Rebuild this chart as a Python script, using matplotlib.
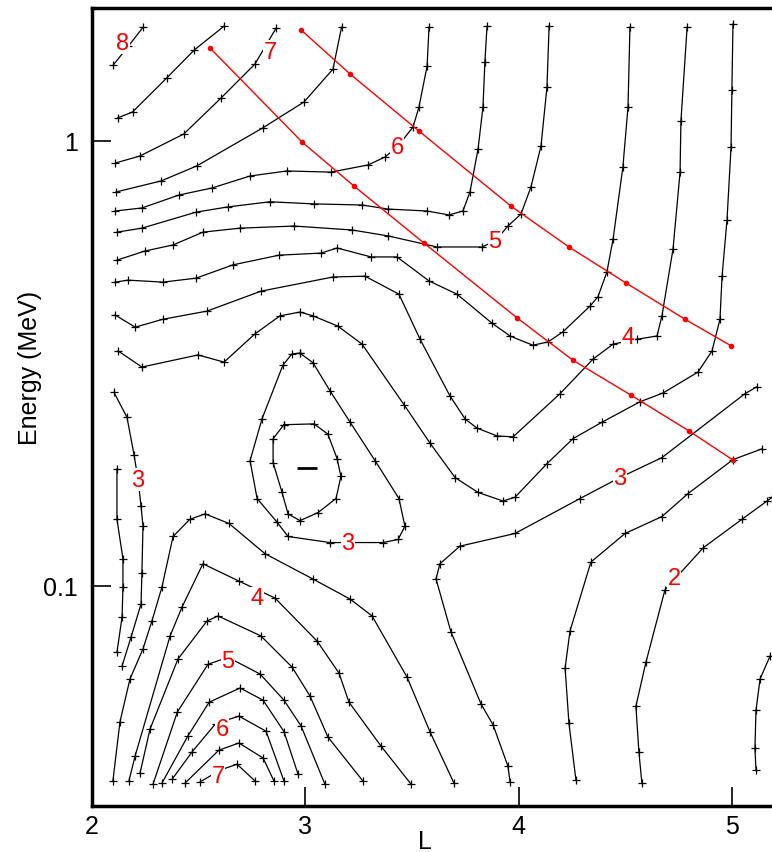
import matplotlib
matplotlib.use('Agg')
import matplotlib.pyplot as plt
from matplotlib.ticker import NullLocator

plt.rcParams['font.family'] = ['Liberation Sans', 'DejaVu Sans']

# contour lines, (L, Energy MeV)
c8 = [(2.10, 1.48), (2.17, 1.63), (2.24, 1.80)]
c7a = [(2.12, 1.125), (2.19, 1.16), (2.35, 1.383), (2.48, 1.60), (2.62, 1.81)]
c7 = [(2.11, 0.891), (2.225, 0.924), (2.43, 1.035), (2.605, 1.247), (2.764, 1.487), (2.863, 1.79)]
c6a = [(2.113, 0.767), (2.324, 0.812), (2.49, 0.877), (2.80, 1.068), (2.994, 1.222),
       (3.13, 1.449), (3.17, 1.80)]
c6 = [(2.108, 0.695), (2.234, 0.706), (2.408, 0.755), (2.563, 0.783), (2.741, 0.833),
      (2.914, 0.855), (3.12, 0.850), (3.294, 0.882), (3.374, 0.919), (3.435, 0.973),
      (3.505, 1.073), (3.533, 1.191), (3.571, 1.472), (3.58, 1.80)]
c5a = [(2.117, 0.623), (2.234, 0.636), (2.488, 0.691), (2.638, 0.710), (2.834, 0.729),
       (3.041, 0.721), (3.266, 0.717), (3.388, 0.702), (3.571, 0.695), (3.674, 0.681),
       (3.739, 0.695), (3.772, 0.767), (3.81, 0.958), (3.833, 1.191), (3.842, 1.503),
       (3.852, 1.811)]
c5 = [(2.117, 0.539), (2.248, 0.565), (2.38, 0.583), (2.52, 0.623), (2.694, 0.636),
      (2.947, 0.643), (3.219, 0.630), (3.388, 0.611), (3.617, 0.577), (3.828, 0.577),
      (3.89, 0.595), (3.95, 0.643), (4.011, 0.684), (4.058, 0.787), (4.105, 0.973),
      (4.133, 1.320), (4.143, 1.811)]
c4a = [(2.108, 0.481), (2.169, 0.486), (2.333, 0.481), (2.488, 0.491), (2.661, 0.526),
       (2.877, 0.553), (3.074, 0.559), (3.149, 0.574), (3.308, 0.548), (3.43, 0.548),
       (3.58, 0.484), (3.711, 0.452), (3.875, 0.389), (3.96, 0.364), (4.067, 0.347),
       (4.138, 0.353), (4.208, 0.372), (4.335, 0.425), (4.372, 0.446), (4.414, 0.507),
       (4.443, 0.601), (4.489, 0.873), (4.513, 1.191), (4.522, 1.80)]
c4 = [(2.108, 0.406), (2.202, 0.381), (2.333, 0.397), (2.539, 0.414), (2.792, 0.459),
      (3.13, 0.494), (3.28, 0.496), (3.439, 0.452), (3.538, 0.358), (3.678, 0.267),
      (3.749, 0.237), (3.805, 0.226), (3.899, 0.217), (3.974, 0.216), (4.194, 0.270),
      (4.349, 0.323), (4.443, 0.349), (4.555, 0.358), (4.649, 0.364), (4.672, 0.404),
      (4.724, 0.571), (4.757, 0.850), (4.761, 1.107), (4.79, 1.80)]
c3a = [(2.122, 0.337), (2.234, 0.310), (2.497, 0.330), (2.619, 0.318), (2.764, 0.368),
       (2.881, 0.404), (2.975, 0.412), (3.036, 0.404), (3.153, 0.383), (3.266, 0.349),
       (3.463, 0.255), (3.585, 0.209), (3.702, 0.175), (3.81, 0.162), (3.927, 0.155),
       (3.983, 0.158), (4.133, 0.188), (4.255, 0.214), (4.391, 0.233), (4.569, 0.259),
       (4.677, 0.271), (4.841, 0.302), (4.907, 0.337), (4.944, 0.397), (4.954, 0.496),
       (4.977, 0.663), (4.996, 0.968), (5.0, 1.30), (5.005, 1.829)]
c3_saddle = [(3.96, 0.0362), (3.95, 0.0393), (3.88, 0.0487), (3.824, 0.0542), (3.683, 0.0787),
             (3.613, 0.1035), (3.631, 0.112), (3.725, 0.1227), (3.983, 0.131), (4.288, 0.157),
             (4.475, 0.175), (4.672, 0.194), (5.061, 0.270), (5.118, 0.280)]
c2a = [(4.269, 0.0365), (4.236, 0.0491), (4.218, 0.0653), (4.241, 0.0791), (4.339, 0.113),
       (4.499, 0.131), (4.672, 0.143), (4.794, 0.161), (5.005, 0.192), (5.141, 0.203)]
c2 = [(4.578, 0.0360), (4.564, 0.0423), (4.55, 0.0536), (4.597, 0.0673), (4.686, 0.0978),
      (4.865, 0.1216), (5.047, 0.141), (5.165, 0.155), (5.188, 0.158)]
c1 = [(5.113, 0.0385), (5.108, 0.0431), (5.113, 0.0525), (5.132, 0.0617), (5.179, 0.0695)]
loop_out = [(2.975, 0.333), (3.036, 0.317), (3.116, 0.274), (3.21, 0.233), (3.327, 0.191),
            (3.439, 0.157), (3.467, 0.136), (3.435, 0.127), (3.364, 0.125), (3.116, 0.125),
            (2.919, 0.129), (2.867, 0.139), (2.774, 0.157), (2.741, 0.191), (2.797, 0.237),
            (2.895, 0.313), (2.938, 0.332), (2.975, 0.333)]
loop_in = [(2.90, 0.230), (3.041, 0.231), (3.106, 0.219), (3.149, 0.193), (3.167, 0.176),
           (3.144, 0.157), (3.06, 0.146), (2.975, 0.140), (2.919, 0.145), (2.891, 0.162),
           (2.849, 0.189), (2.849, 0.214), (2.90, 0.230)]
left3 = [(2.103, 0.272), (2.164, 0.239), (2.197, 0.197), (2.216, 0.173), (2.23, 0.151),
         (2.239, 0.136), (2.234, 0.107), (2.23, 0.091), (2.183, 0.0766), (2.141, 0.066)]
left3b = [(2.117, 0.183), (2.117, 0.141), (2.145, 0.115), (2.145, 0.0993), (2.141, 0.085),
          (2.117, 0.0709)]
arch_big = [(2.098, 0.0364), (2.131, 0.0494), (2.178, 0.0617), (2.239, 0.0721), (2.281, 0.0833),
            (2.328, 0.0993), (2.38, 0.129), (2.459, 0.141), (2.53, 0.145), (2.642, 0.138),
            (2.811, 0.118), (3.036, 0.1035), (3.21, 0.0933), (3.313, 0.0855), (3.477, 0.0623),
            (3.585, 0.0469), (3.697, 0.036)]
arch4 = [(2.173, 0.0364), (2.202, 0.0414), (2.366, 0.0771), (2.422, 0.0895), (2.52, 0.112),
         (2.689, 0.1024), (2.858, 0.0938), (3.055, 0.0751), (3.158, 0.0636), (3.205, 0.0547),
         (3.355, 0.0436), (3.496, 0.0358)]
arch45 = [(2.225, 0.0379), (2.272, 0.0476), (2.403, 0.0684), (2.539, 0.0833), (2.591, 0.0855),
          (2.792, 0.0771), (2.938, 0.0656), (3.022, 0.0565), (3.106, 0.0457), (3.27, 0.0364)]
arch5 = [(2.286, 0.0358), (2.40, 0.052), (2.544, 0.0666), (2.638, 0.0690), (2.788, 0.0633),
         (2.90, 0.0553), (2.98, 0.0484), (3.092, 0.0358)]
arch56 = [(2.328, 0.036), (2.45, 0.046), (2.549, 0.0547), (2.694, 0.0589), (2.802, 0.0553),
          (2.90, 0.0470), (2.966, 0.0377)]
arch6 = [(2.375, 0.0367), (2.469, 0.0423), (2.58, 0.049), (2.689, 0.0509), (2.816, 0.0471),
         (2.90, 0.0364)]
arch67 = [(2.436, 0.036), (2.595, 0.0427), (2.689, 0.0443), (2.802, 0.041), (2.853, 0.0364)]
arch7 = [(2.506, 0.0362), (2.60, 0.0385), (2.68, 0.0397), (2.764, 0.0364)]

contours = [c8, c7a, c7, c6a, c6, c5a, c5, c4a, c4, c3a, c3_saddle, c2a, c2, c1,
            loop_out, loop_in, left3, left3b, arch_big, arch4, arch45, arch5, arch56,
            arch6, arch67, arch7]

# red lines
red1_L = [2.553, 2.985, 3.228, 3.556, 3.992, 4.255, 4.527, 4.799, 5.005]
red1_E = [1.616, 0.993, 0.791, 0.589, 0.400, 0.321, 0.268, 0.2227, 0.1916]
red2_L = [2.980, 3.210, 3.533, 3.964, 4.236, 4.503, 4.780, 4.996]
red2_E = [1.774, 1.412, 1.051, 0.713, 0.577, 0.479, 0.397, 0.346]

# contour labels
lab_text = ['8', '7', '6', '5', '4', '3', '2', '3', '3', '4', '5', '6', '7']
lab_L = [2.145, 2.836, 3.43, 3.89, 4.513, 4.475, 4.73, 3.20, 2.216, 2.774, 2.638, 2.609, 2.591]
lab_E = [1.658, 1.583, 0.968, 0.595, 0.362, 0.175, 0.104, 0.125, 0.173, 0.0938, 0.0677, 0.0476, 0.0373]

min_L, min_E = 3.008, 0.184

fig = plt.figure(figsize=(7.72, 8.53), dpi=100)
ax = fig.add_axes([92 / 772, 1 - 807 / 853, 680 / 772, 798 / 853])

for c in contours:
    xs = [p[0] for p in c]
    ys = [p[1] for p in c]
    ax.plot(xs, ys, color='black', lw=0.9, marker='+', ms=5.5, mew=0.9, zorder=2)

ax.plot(min_L, min_E, marker='_', ms=14, mew=2, color='black', zorder=2)

ax.plot(red1_L, red1_E, color='red', lw=1.0, marker='o', ms=3, zorder=4)
ax.plot(red2_L, red2_E, color='red', lw=1.0, marker='o', ms=3, zorder=4)

for t, lx, ly in zip(lab_text, lab_L, lab_E):
    ax.text(lx, ly, t, color='red', fontsize=17, ha='center', va='center', zorder=3,
            bbox=dict(facecolor='white', edgecolor='none', pad=0.3))

ax.set_yscale('log')
ax.set_xlim(2, 5.188)
ax.set_ylim(0.03198, 1.987)
ax.set_xticks([2, 3, 4, 5])
ax.set_xticklabels(['2', '3', '4', '5'])
ax.set_yticks([0.1, 1])
ax.set_yticklabels(['0.1', '1'])
ax.yaxis.set_minor_locator(NullLocator())
ax.tick_params(direction='in', length=14, width=1.2, labelsize=18, pad=6)
ax.tick_params(axis='y', pad=10)
ax.spines['right'].set_visible(False)
for s in ['left', 'bottom', 'top']:
    ax.spines[s].set_linewidth(2.5)

fig.text(30 / 772, 1 - 368 / 853, 'Energy (MeV)', rotation=90, ha='center', va='center', fontsize=18)
fig.text(425 / 772, 1 - 842 / 853, 'L', ha='center', va='center', fontsize=18)

fig.savefig('out.png', dpi=100)
